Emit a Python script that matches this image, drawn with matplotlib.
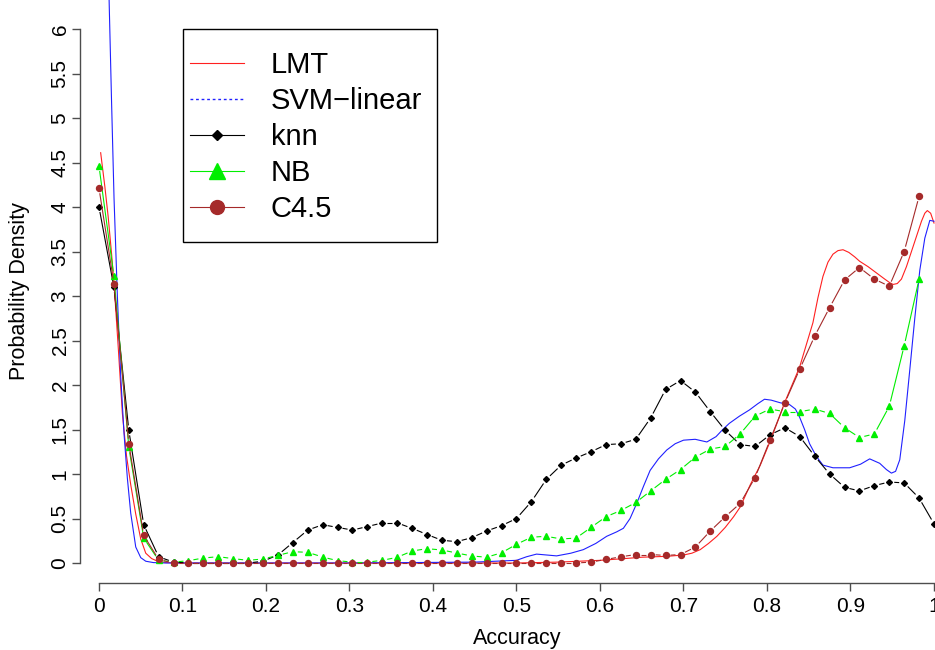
import numpy as np
import matplotlib
matplotlib.use("Agg")
import matplotlib.pyplot as plt
from matplotlib.collections import LineCollection
from matplotlib.lines import Line2D
from matplotlib.patches import Rectangle

plt.rcParams['font.family'] = ['Liberation Sans', 'DejaVu Sans']

# knn / NB / C4.5 density estimates on a regular grid of accuracy values
knn_x = np.linspace(0, 1, 57)
knn_y = [4.00, 3.10, 1.49, 0.43, 0.07, 0.01, 0.00, 0.00, 0.00, 0.00,
         0.00, 0.02, 0.09, 0.23, 0.37, 0.43, 0.40, 0.37, 0.41, 0.45,
         0.45, 0.39, 0.32, 0.255, 0.24, 0.285, 0.36, 0.42, 0.50, 0.69,
         0.94, 1.10, 1.18, 1.25, 1.33, 1.34, 1.39, 1.63, 1.95, 2.05,
         1.92, 1.70, 1.49, 1.33, 1.31, 1.44, 1.52, 1.42, 1.20, 1.00,
         0.85, 0.81, 0.87, 0.91, 0.90, 0.73, 0.44]

nb_x = knn_x[:56]
nb_y = [4.46, 3.22, 1.30, 0.28, 0.03, 0.01, 0.026, 0.056, 0.071, 0.049,
        0.03, 0.045, 0.086, 0.127, 0.12, 0.067, 0.026, 0.01, 0.01, 0.03,
        0.064, 0.135, 0.161, 0.146, 0.112, 0.079, 0.065, 0.115, 0.21, 0.29,
        0.30, 0.27, 0.28, 0.40, 0.52, 0.59, 0.68, 0.81, 0.94, 1.05,
        1.19, 1.28, 1.31, 1.45, 1.65, 1.73, 1.70, 1.70, 1.73, 1.68,
        1.52, 1.41, 1.45, 1.76, 2.44, 3.19]

c45_x = knn_x[:56]
c45_y = [4.21, 3.14, 1.34, 0.31, 0.04, 0.00, 0.00, 0.00, 0.00, 0.00,
         0.00, 0.00, 0.00, 0.00, 0.00, 0.00, 0.00, 0.00, 0.00, 0.00,
         0.00, 0.00, 0.00, 0.00, 0.00, 0.00, 0.00, 0.00, 0.00, 0.00,
         0.00, 0.00, 0.00, 0.01, 0.04, 0.07, 0.095, 0.095, 0.085, 0.095,
         0.18, 0.36, 0.52, 0.67, 0.96, 1.38, 1.80, 2.18, 2.55, 2.87,
         3.18, 3.32, 3.19, 3.11, 3.50, 4.12]

lmt_x = [0.002, 0.007, 0.011, 0.015, 0.018, 0.023, 0.028, 0.033, 0.038, 0.044,
         0.050, 0.056, 0.063, 0.070, 0.080, 0.100, 0.300, 0.500, 0.550, 0.600,
         0.630, 0.650, 0.680, 0.700, 0.710, 0.720, 0.730, 0.740, 0.750, 0.760,
         0.768, 0.780, 0.792, 0.803, 0.812, 0.821, 0.830, 0.839, 0.847, 0.855,
         0.861, 0.867, 0.873, 0.879, 0.885, 0.891, 0.898, 0.905, 0.911, 0.921,
         0.931, 0.941, 0.947, 0.951, 0.956, 0.961, 0.967, 0.973, 0.979, 0.985,
         0.989, 0.992, 0.996, 1.000]
lmt_y = [4.61, 4.23, 3.89, 3.48, 3.14, 2.43, 1.68, 1.20, 0.88, 0.55,
         0.27, 0.11, 0.05, 0.02, 0.005, 0.0, 0.0, 0.0, 0.01, 0.03,
         0.05, 0.065, 0.075, 0.09, 0.11, 0.15, 0.22, 0.30, 0.40, 0.52,
         0.63, 0.88, 1.10, 1.35, 1.57, 1.80, 2.00, 2.20, 2.45, 2.70,
         2.98, 3.22, 3.38, 3.47, 3.51, 3.52, 3.49, 3.44, 3.39, 3.33,
         3.26, 3.19, 3.15, 3.13, 3.14, 3.19, 3.33, 3.50, 3.67, 3.84,
         3.93, 3.96, 3.93, 3.82]

svm_x = [0.0105, 0.0123, 0.015, 0.018, 0.022, 0.026, 0.030, 0.034, 0.038, 0.044,
         0.050, 0.056, 0.065, 0.080, 0.300, 0.450, 0.500, 0.512, 0.524, 0.536,
         0.548, 0.565, 0.580, 0.595, 0.608, 0.620, 0.628, 0.636, 0.644, 0.652,
         0.660, 0.670, 0.680, 0.690, 0.700, 0.714, 0.728, 0.739, 0.747, 0.755,
         0.767, 0.779, 0.789, 0.797, 0.805, 0.816, 0.827, 0.834, 0.839, 0.845,
         0.851, 0.859, 0.867, 0.879, 0.899, 0.912, 0.923, 0.935, 0.943, 0.949,
         0.954, 0.959, 0.965, 0.971, 0.977, 0.983, 0.989, 0.995, 1.000]
svm_y = [7.0, 6.25, 5.20, 4.10, 3.00, 2.10, 1.45, 0.95, 0.56, 0.18,
         0.06, 0.02, 0.005, 0.0, 0.0, 0.01, 0.03, 0.07, 0.10, 0.09,
         0.08, 0.11, 0.15, 0.22, 0.30, 0.35, 0.39, 0.50, 0.67, 0.86,
         1.04, 1.17, 1.27, 1.34, 1.38, 1.39, 1.36, 1.42, 1.50, 1.57,
         1.65, 1.72, 1.79, 1.84, 1.83, 1.80, 1.78, 1.73, 1.64, 1.50,
         1.34, 1.20, 1.10, 1.07, 1.07, 1.11, 1.17, 1.12, 1.05, 1.01,
         1.03, 1.16, 1.60, 2.17, 2.75, 3.29, 3.65, 3.85, 3.84]

x_ticks = [0, 0.1, 0.2, 0.3, 0.4, 0.5, 0.6, 0.7, 0.8, 0.9, 1]
x_tick_labels = ['0', '0.1', '0.2', '0.3', '0.4', '0.5', '0.6', '0.7', '0.8', '0.9', '1']
y_ticks = [0, 0.5, 1, 1.5, 2, 2.5, 3, 3.5, 4, 4.5, 5, 5.5, 6]
y_tick_labels = ['0', '0.5', '1', '1.5', '2', '2.5', '3', '3.5', '4', '4.5', '5', '5.5', '6']

fig = plt.figure(figsize=(9.35, 6.5), dpi=100)
ax = fig.add_axes([80 / 935, 67 / 650, 855 / 935, 583 / 650])
ax.set_xlim(-0.02275, 1.0012)
ax.set_ylim(-0.2247, 6.326)

ax.plot(lmt_x, lmt_y, color='#ff2020', lw=0.8)
ax.plot(svm_x, svm_y, color='#2020ff', lw=0.8)


def type_b(x, y, color, marker, ms, gap=5.0):
    # R's type="b": line segments stop short of each point
    pts = ax.transData.transform(np.column_stack([x, y]))
    segs = []
    for p0, p1 in zip(pts[:-1], pts[1:]):
        d = p1 - p0
        L = np.hypot(*d)
        if L <= 2 * gap:
            continue
        u = d / L
        segs.append(ax.transData.inverted().transform([p0 + u * gap, p1 - u * gap]))
    ax.add_collection(LineCollection(segs, colors=color, linewidths=0.8))
    ax.plot(x, y, linestyle='none', marker=marker, ms=ms, color=color, mec=color)


type_b(knn_x, knn_y, 'black', 'D', 3.0)
type_b(nb_x, nb_y, '#00ee00', '^', 4.6)
type_b(c45_x, c45_y, '#a52a2a', 'o', 4.3)

# R-style axes
for side in ['top', 'right']:
    ax.spines[side].set_visible(False)
ax.spines['left'].set_bounds(0, 6)
ax.spines['bottom'].set_bounds(0, 1)
for side in ['left', 'bottom']:
    ax.spines[side].set_color('#4d4d4d')
    ax.spines[side].set_linewidth(1.0)
ax.set_xticks(x_ticks, x_tick_labels)
ax.set_yticks(y_ticks, y_tick_labels)
ax.tick_params(axis='both', colors='#4d4d4d', length=6, width=1.0, labelsize=15,
               labelcolor='black')
ax.tick_params(axis='x', pad=4)
ax.tick_params(axis='y', pad=1.5)
for lab in ax.get_yticklabels():
    lab.set_rotation(90)
    lab.set_va('center')

ax.set_xlabel('Accuracy', fontsize=15.5)
ax.xaxis.set_label_coords(0.511, -0.078)
ax.set_ylabel('Probability Density', fontsize=15.5)
ax.yaxis.set_label_coords(-0.0585, 0.5)

handles = [
    Line2D([], [], color='#ff2020', lw=0.8),
    Line2D([], [], color='#2020ff', lw=1.0, linestyle=(0, (2, 2))),
    Line2D([], [], color='black', lw=0.8, marker='D', ms=5.2),
    Line2D([], [], color='#00ee00', lw=0.8, marker='^', ms=11.5),
    Line2D([], [], color='#a52a2a', lw=0.8, marker='o', ms=10),
]
labels = ['LMT', 'SVM\u2212linear', 'knn', 'NB', 'C4.5']
ax.legend(handles, labels, loc='upper left', bbox_to_anchor=(0.1287, 0.9117),
          borderaxespad=0, borderpad=0, fontsize=21, frameon=False,
          handlelength=1.85, handletextpad=0.92, labelspacing=0.27)
ax.add_patch(Rectangle((0.1201, 0.5849), 0.2971, 0.3648, transform=ax.transAxes,
                       fill=False, edgecolor='black', lw=1.0, zorder=5))

fig.savefig('out.png', dpi=100)
